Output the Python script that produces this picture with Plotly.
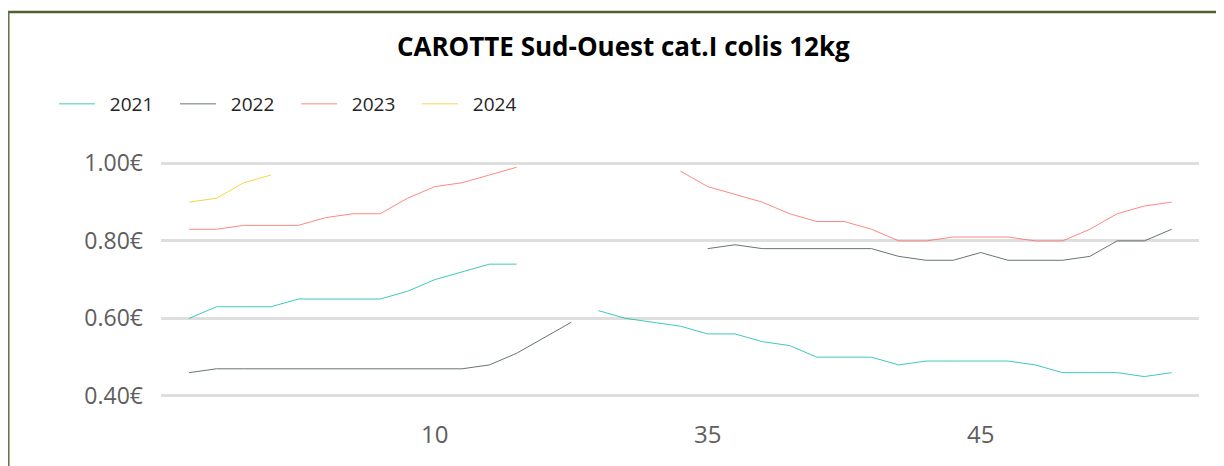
import plotly.graph_objects as go

weeks = [str(w) for w in list(range(1, 16)) + list(range(31, 53))]

y2021 = [0.60, 0.63, 0.63, 0.63, 0.65, 0.65, 0.65, 0.65, 0.67, 0.70, 0.72, 0.74, 0.74, None, None,
         0.62, 0.60, 0.59, 0.58, 0.56, 0.56, 0.54, 0.53, 0.50, 0.50, 0.50, 0.48, 0.49, 0.49, 0.49,
         0.49, 0.48, 0.46, 0.46, 0.46, 0.45, 0.46]
y2022 = [0.46, 0.47, 0.47, 0.47, 0.47, 0.47, 0.47, 0.47, 0.47, 0.47, 0.47, 0.48, 0.51, 0.55, 0.59,
         None, None, None, None, 0.78, 0.79, 0.78, 0.78, 0.78, 0.78, 0.78, 0.76, 0.75, 0.75, 0.77,
         0.75, 0.75, 0.75, 0.76, 0.80, 0.80, 0.83]
y2023 = [0.83, 0.83, 0.84, 0.84, 0.84, 0.86, 0.87, 0.87, 0.91, 0.94, 0.95, 0.97, 0.99, None, None,
         None, None, None, 0.98, 0.94, 0.92, 0.90, 0.87, 0.85, 0.85, 0.83, 0.80, 0.80, 0.81, 0.81,
         0.81, 0.80, 0.80, 0.83, 0.87, 0.89, 0.90]
y2024 = [0.90, 0.91, 0.95, 0.97] + [None] * 33

series_names = ["2021", "2022", "2023", "2024"]
series_values = [y2021, y2022, y2023, y2024]
series_colors = ["#01B8AA", "#374649", "#FD625E", "#F2C80F"]

x_tick_labels = ["10", "35", "45"]
y_tick_values = [0.40, 0.60, 0.80, 1.00]
y_tick_labels = ["0.40€", "0.60€", "0.80€", "1.00€"]

FONT = "Open Sans"

fig = go.Figure()
for name, vals, col in zip(series_names, series_values, series_colors):
    fig.add_trace(go.Scatter(x=weeks, y=vals, name="\u00a0\u00a0" + name, mode="lines",
                             line=dict(color=col, width=1), opacity=0.75,
                             connectgaps=False))

# page body has an 8px margin: work in figure pixels (screen - 8)
W, H = 1216, 458
L, R, T, B = 153, 25, 142, 56
plot_w = W - L - R
plot_h = H - T - B


def px2paper_x(px):
    return (px - L) / plot_w


def px2paper_y(py):
    return (H - B - py) / plot_h


fig.update_layout(
    width=W, height=H,
    margin=dict(l=L, r=R, t=T, b=B),
    paper_bgcolor="white", plot_bgcolor="white",
    font=dict(family=FONT, color="#605E5C"),
    title=dict(text="<b>CAROTTE Sud-Ouest cat.I colis 12kg</b>", x=0.506, xanchor="center",
               y=1 - 39 / H, yanchor="middle",
               font=dict(family=FONT, size=26, color="#000000")),
    showlegend=True,
    legend=dict(orientation="h", x=px2paper_x(46), xanchor="left", y=px2paper_y(96), yanchor="middle",
                font=dict(family=FONT, size=19, color="#252423"), bgcolor="rgba(0,0,0,0)",
                itemwidth=36, tracegroupgap=0, entrywidth=70, entrywidthmode="pixels"),
    xaxis=dict(type="category", categoryorder="array", categoryarray=weeks,
               range=[-1.03, 37.0], tickmode="array", tickvals=x_tick_labels, ticktext=x_tick_labels,
               showgrid=False, zeroline=False, showline=False, ticks="", ticklabelstandoff=8,
               tickfont=dict(family=FONT, size=24, color="#605E5C")),
    yaxis=dict(range=[0.3637, 1.0345], tickmode="array", tickvals=y_tick_values,
               ticktext=y_tick_labels, showgrid=True, gridcolor="#DEDEDE", gridwidth=2.5,
               zeroline=False, showline=False, ticks="", ticklabelstandoff=17,
               tickfont=dict(family=FONT, size=23, color="#605E5C")),
    shapes=[
        dict(type="line", xref="paper", yref="paper",
             x0=px2paper_x(0), x1=px2paper_x(1230), y0=px2paper_y(4), y1=px2paper_y(4),
             line=dict(color="#4F6228", width=2.5)),
        dict(type="line", xref="paper", yref="paper",
             x0=px2paper_x(0.8), x1=px2paper_x(0.8), y0=px2paper_y(3), y1=px2paper_y(470),
             line=dict(color="#5F7040", width=1.5)),
    ],
)

fig.write_html("out.html")
